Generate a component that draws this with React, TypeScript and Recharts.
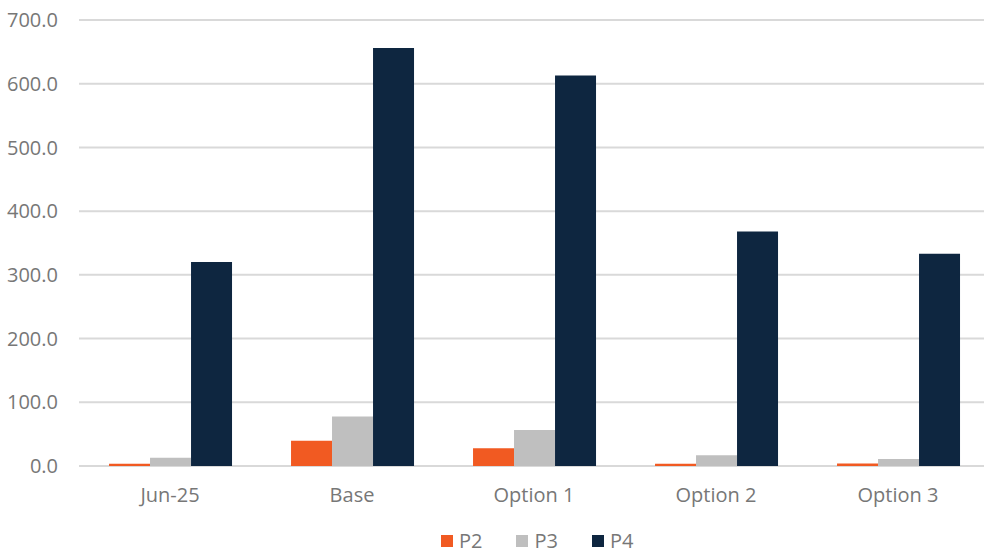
import React from 'react';
import { BarChart, Bar, XAxis, YAxis, CartesianGrid, Legend } from 'recharts';

const categories = ['Jun-25', 'Base', 'Option 1', 'Option 2', 'Option 3'];
const p2Values = [3.5, 39.5, 28.0, 3.5, 4.0];
const p3Values = [13.0, 77.5, 56.5, 17.0, 11.0];
const p4Values = [320.0, 656.0, 613.0, 368.0, 333.0];
const yTicks = [0, 100, 200, 300, 400, 500, 600, 700];

const seriesNames = ['P2', 'P3', 'P4'];
const seriesColors = ['#F15A22', '#BFBFBF', '#0E2640'];

const data = categories.map((c, i) => ({
  name: c,
  P2: p2Values[i],
  P3: p3Values[i],
  P4: p4Values[i],
}));

const FONT = '"Open Sans", sans-serif';
const TEXT_COLOR = '#777777';

const LegendContent = () => (
  <div
    style={{
      display: 'flex',
      justifyContent: 'flex-start',
      alignItems: 'center',
      height: 24,
      fontFamily: FONT,
      fontSize: 20,
      color: TEXT_COLOR,
      paddingLeft: 441,
    }}
  >
    {seriesNames.map((n, i) => (
      <div key={n} style={{ display: 'flex', alignItems: 'center', marginRight: i < seriesNames.length - 1 ? 34 : 0 }}>
        <div style={{ width: 12, height: 12, background: seriesColors[i], marginRight: 6 }} />
        <span style={{ lineHeight: '24px' }}>{n}</span>
      </div>
    ))}
  </div>
);

export default function App() {
  return (
    <div style={{ position: 'absolute', left: 0, top: 0, width: 984, height: 554, background: '#fff' }}>
      <BarChart
        width={984}
        height={554}
        data={data}
        margin={{ top: 20, right: -5, bottom: 1, left: 0 }}
        barCategoryGap="16.5%"
        barGap={0}
      >
        <CartesianGrid vertical={false} stroke="#D9D9D9" strokeWidth={2} />
        <XAxis
          dataKey="name"
          axisLine={false}
          tickLine={false}
          height={63}
          tickMargin={16}
          tick={{ fill: TEXT_COLOR, fontSize: 20, fontFamily: FONT }}
        />
        <YAxis
          domain={[0, 700]}
          ticks={yTicks}
          interval={0}
          width={79}
          axisLine={false}
          tickLine={false}
          tickMargin={15}
          tickFormatter={(v: number) => v.toFixed(1)}
          tick={{ fill: TEXT_COLOR, fontSize: 20, fontFamily: FONT }}
        />
        <Legend
          verticalAlign="bottom"
          height={24}
          wrapperStyle={{ left: 0, width: 984 }}
          content={<LegendContent />}
        />
        {seriesNames.map((n, i) => (
          <Bar key={n} dataKey={n} fill={seriesColors[i]} isAnimationActive={false} />
        ))}
      </BarChart>
    </div>
  );
}
